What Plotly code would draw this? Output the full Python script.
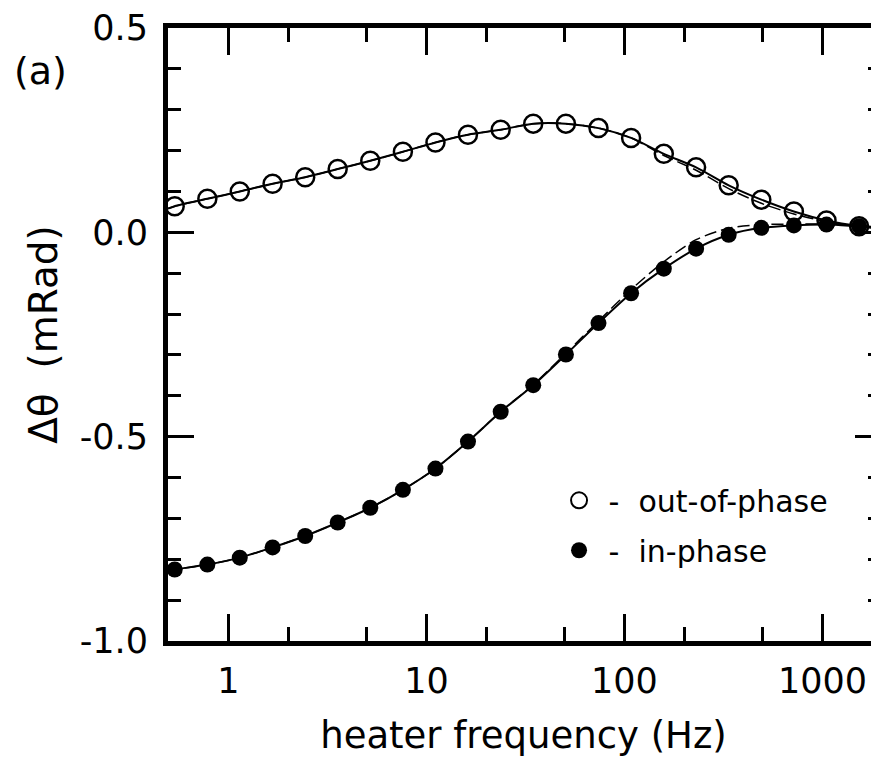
import plotly.graph_objects as go

# heater frequency (Hz) of the measured points
freq = [0.535, 0.782, 1.14, 1.67, 2.44, 3.56, 5.20, 7.60, 11.1, 16.2, 23.7,
        34.6, 50.6, 73.9, 108, 158, 230, 336, 491, 717, 1048, 1531]

# measured out-of-phase signal (mRad)
out_phase = [0.064, 0.082, 0.100, 0.119, 0.135, 0.155, 0.175, 0.197, 0.220, 0.239, 0.251,
             0.266, 0.266, 0.255, 0.231, 0.192, 0.159, 0.115, 0.080, 0.051, 0.029, 0.015]

# measured in-phase signal (mRad)
in_phase = [-0.825, -0.813, -0.796, -0.771, -0.743, -0.710, -0.674, -0.630, -0.578, -0.512, -0.439,
            -0.374, -0.299, -0.222, -0.149, -0.089, -0.040, -0.006, 0.011, 0.017, 0.019, 0.015]

# model curves (solid fit and dashed alternative), sampled at the edges and at the measured frequencies
fit_freq = [0.495] + freq + [1930]
fit_out_solid = [0.058] + out_phase + [0.010]
fit_in_solid = [-0.828] + in_phase + [0.013]
fit_out_dash = [0.058, 0.064, 0.082, 0.100, 0.119, 0.135, 0.155, 0.175, 0.197, 0.220, 0.239, 0.251,
                0.266, 0.266, 0.255, 0.231, 0.188, 0.152, 0.107, 0.071, 0.045, 0.026, 0.014, 0.010]
fit_in_dash = [-0.828, -0.825, -0.813, -0.796, -0.771, -0.743, -0.710, -0.674, -0.630, -0.578, -0.512, -0.439,
               -0.373, -0.296, -0.217, -0.140, -0.072, -0.018, 0.010, 0.019, 0.020, 0.020, 0.016, 0.013]

x_tick_vals = [1, 10, 100, 1000]
x_tick_text = ["1", "10", "100", "1000"]
x_minor_vals = [2, 5, 20, 50, 200, 500]
y_tick_vals = [-1.0, -0.5, 0.0, 0.5]
y_tick_text = ["-1.0", "-0.5", "0.0", "0.5"]

FONT = "DejaVu Sans"
BLACK = "black"

fig = go.Figure()

# dashed model curves
for ys in (fit_out_dash, fit_in_dash):
    fig.add_trace(go.Scatter(x=fit_freq, y=ys, mode="lines", showlegend=False,
                             line=dict(color=BLACK, width=1.5, dash="12px,5px", shape="spline", smoothing=0.8),
                             hoverinfo="skip"))
# solid fit curves
for ys in (fit_out_solid, fit_in_solid):
    fig.add_trace(go.Scatter(x=fit_freq, y=ys, mode="lines", showlegend=False,
                             line=dict(color=BLACK, width=2, shape="spline", smoothing=0.8),
                             hoverinfo="skip"))

# data points
fig.add_trace(go.Scatter(x=freq, y=in_phase, mode="markers", name="in-phase",
                         marker=dict(symbol="circle", size=16, color=BLACK),
                         showlegend=False))
fig.add_trace(go.Scatter(x=freq, y=out_phase, mode="markers", name="out-of-phase",
                         marker=dict(symbol="circle-open", size=18, color=BLACK, line=dict(width=2.5, color=BLACK)),
                         showlegend=False))

# legend entries
fig.add_trace(go.Scatter(x=[None], y=[None], mode="markers", name="\u00a0-\u00a0\u00a0out-of-phase",
                         legendgroup="a",
                         marker=dict(symbol="circle-open", size=18, color=BLACK, line=dict(width=2, color=BLACK))))
fig.add_trace(go.Scatter(x=[None], y=[None], mode="markers", name="\u00a0-\u00a0\u00a0in-phase",
                         legendgroup="b",
                         marker=dict(symbol="circle", size=18, color=BLACK)))

# invisible trace to carry the right-hand tick axis
fig.add_trace(go.Scatter(x=[None], y=[None], yaxis="y2", showlegend=False, hoverinfo="skip"))

# the page body has an 8 px margin, so the figure is made 8 px smaller and its margins shifted
fig.update_layout(
    width=871, height=756,
    margin=dict(l=160, r=0, t=17, b=123),
    paper_bgcolor="white", plot_bgcolor="white",
    font=dict(family=FONT, size=35, color=BLACK),
    showlegend=True,
    legend=dict(x=0.55, y=0.272, xanchor="left", yanchor="top",
                bgcolor="rgba(0,0,0,0)", font=dict(family=FONT, size=30, color=BLACK),
                tracegroupgap=8, itemwidth=30),
    xaxis=dict(type="log", range=[-0.3056, 3.2855],
               tickvals=x_tick_vals, ticktext=x_tick_text,
               ticks="inside", ticklen=27, tickwidth=2.5, tickcolor=BLACK,
               showline=True, linewidth=5, linecolor=BLACK, mirror="ticks",
               showgrid=False, zeroline=False, ticklabelstandoff=5,
               ticklabeloverflow="allow",
               tickfont=dict(family=FONT, size=35, color=BLACK),
               minor=dict(tickvals=x_minor_vals, ticks="inside", ticklen=14, tickwidth=2.5,
                          tickcolor=BLACK, showgrid=False),
               title=dict(text="heater frequency (Hz)", standoff=24,
                          font=dict(family=FONT, size=37, color=BLACK))),
    yaxis=dict(range=[-1.0, 0.5], tickvals=y_tick_vals, ticktext=y_tick_text,
               ticks="inside", ticklen=26, tickwidth=2.5, tickcolor=BLACK,
               showline=True, linewidth=5, linecolor=BLACK, mirror=False,
               showgrid=False, zeroline=False, ticklabelstandoff=8,
               ticklabeloverflow="allow",
               tickfont=dict(family=FONT, size=35, color=BLACK),
               minor=dict(dtick=0.1, tick0=0, ticks="inside", ticklen=13, tickwidth=2.5,
                          tickcolor=BLACK, showgrid=False),
               title=dict(text="\u0394\u03b8\u00a0\u00a0(mRad)", standoff=12,
                          font=dict(family=FONT, size=39, color=BLACK))),
    yaxis2=dict(overlaying="y", side="right", range=[-1.0, 0.5], tickvals=y_tick_vals,
                showticklabels=False, ticks="inside", ticklen=24, tickwidth=2.5, tickcolor=BLACK,
                showline=False, showgrid=False, zeroline=False,
                minor=dict(dtick=0.1, tick0=0, ticks="inside", ticklen=11, tickwidth=2.5,
                           tickcolor=BLACK, showgrid=False)),
    annotations=[dict(text="(a)", xref="paper", yref="paper", x=-0.18, y=0.93,
                      xanchor="center", yanchor="middle", showarrow=False,
                      font=dict(family=FONT, size=38, color=BLACK))],
)

fig.write_html("out.html")
